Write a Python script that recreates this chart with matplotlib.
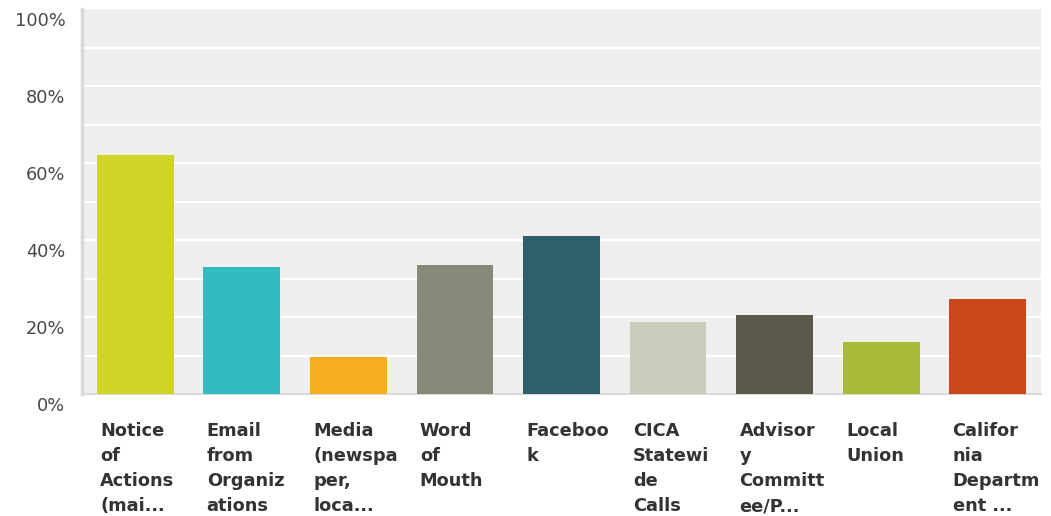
import numpy as np
import matplotlib.pyplot as plt
import matplotlib.transforms as mtransforms

# survey answers (share of respondents)
labels = [
    "Notice\nof\nActions\n(mai...",
    "Email\nfrom\nOrganiz\nations",
    "Media\n(newspa\nper,\nloca...",
    "Word\nof\nMouth",
    "Faceboo\nk",
    "CICA\nStatewi\nde\nCalls",
    "Advisor\ny\nCommitt\nee/P...",
    "Local\nUnion",
    "Califor\nnia\nDepartm\nent ...",
]
values = [62.1, 33.0, 9.6, 33.5, 41.0, 18.7, 20.5, 13.5, 24.7]
colors = ["#cfd427", "#33bcbf", "#f6ae1e", "#888878", "#2d5f6c",
          "#cdcdbe", "#5a594a", "#a8ba38", "#c9471b"]
yticks = [0, 20, 40, 60, 80, 100]

plt.rcParams['font.family'] = ['DejaVu Sans']

fig = plt.figure(figsize=(10.51, 5.16), dpi=100)
ax = fig.add_axes([82 / 1051, 122 / 516, 959 / 1051, 385 / 516])
ax.set_facecolor("#efefef")

x = np.arange(len(values))
w = 0.72
ax.bar(x, values, width=w, color=colors, zorder=3)

ax.set_xlim(-0.5, len(values) - 0.5)
ax.set_ylim(0, 100)

# white gridlines every 10%
for g in range(10, 100, 10):
    ax.axhline(g, color="white", lw=1.6, zorder=1)

for s in ["top", "right"]:
    ax.spines[s].set_visible(False)
ax.spines["left"].set_color("#dadada")
ax.spines["left"].set_linewidth(2.5)
ax.spines["bottom"].set_color("#dadada")
ax.spines["bottom"].set_linewidth(1.5)

ax.set_yticks(yticks)
ax.set_yticklabels([f"{t}%" for t in yticks])
ax.tick_params(axis="y", length=0, pad=12, labelsize=12.8, labelcolor="#484848")
off = mtransforms.ScaledTranslation(0, -10 / 100, fig.dpi_scale_trans)
for lab in ax.get_yticklabels():
    lab.set_transform(lab.get_transform() + off)

ax.set_xticks([])
# category labels, left-aligned with each bar
for xi, lab in zip(x, labels):
    ax.text(xi - w / 2 + 0.03, -7.4, lab, ha="left", va="top",
            fontsize=12.8, fontweight="bold", color="#333333",
            linespacing=1.49, transform=ax.transData, clip_on=False)

fig.savefig("out.png", dpi=100, facecolor="white")
